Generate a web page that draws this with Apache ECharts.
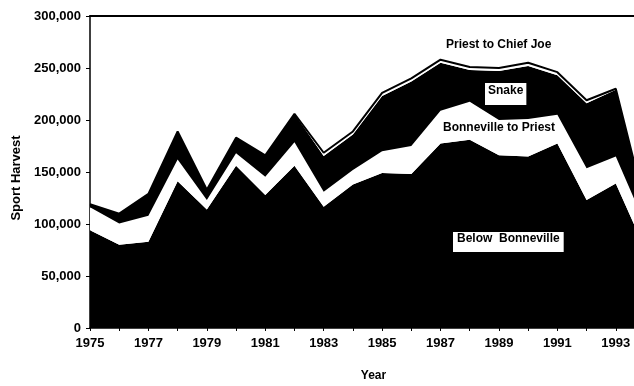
<!DOCTYPE html>
<html>
<head>
<meta charset="utf-8">
<script src="https://cdn.jsdelivr.net/npm/echarts@6/dist/echarts.min.js"></script>
<style>
  html, body { margin: 0; padding: 0; background: #fff; }
  #chart { width: 634px; height: 386px; }
</style>
</head>
<body>
<div id="chart"></div>
<script>
// Sport harvest by river reach, 1975-1994 (stacked)
const years = ['1975', '1976', '1977', '1978', '1979', '1980', '1981', '1982', '1983', '1984',
               '1985', '1986', '1987', '1988', '1989', '1990', '1991', '1992', '1993', '1994'];
const belowBonneville = [94000, 80000, 83000, 141000, 114000, 156000, 128000, 156000, 116500, 138000,
                         149000, 148000, 177500, 181000, 166000, 165000, 177500, 123000, 139000, 76000];
const bonnevilleToPriest = [22000, 20500, 25000, 21000, 9000, 12000, 17500, 22500, 14500, 14000,
                            21000, 27000, 31500, 36500, 34000, 36000, 27500, 30500, 26000, 24000];
const snake = [3000, 9500, 21000, 27000, 10000, 15000, 20500, 27500, 34500, 34000,
               53000, 62000, 46000, 30500, 47000, 51000, 38000, 62500, 64000, 18000];
const priestToChiefJoe = [0, 0, 0, 0, 0, 0, 0, 0, 3000, 3000,
                          3000, 3000, 3000, 3000, 3000, 3000, 3000, 3000, 1000, 0];
const yTicks = [0, 50000, 100000, 150000, 200000, 250000, 300000];

const FONT = '"Liberation Sans", Arial, sans-serif';

function layer(name, values, fill, line) {
  return {
    name: name,
    type: 'line',
    stack: 'harvest',
    data: values,
    symbol: 'none',
    smooth: false,
    lineStyle: line ? { color: line, width: 2 } : { width: 0 },
    areaStyle: { color: fill, opacity: 1 },
    emphasis: { disabled: true },
    silent: true
  };
}

const chart = echarts.init(document.getElementById('chart'), null, { renderer: 'canvas' });
chart.setOption({
  animation: false,
  backgroundColor: '#fff',
  grid: { left: 90, right: -11, top: 16, bottom: 58, containLabel: false, outerBoundsMode: 'none' },
  xAxis: [{
    type: 'category',
    data: years,
    boundaryGap: false,
    name: 'Year',
    nameLocation: 'middle',
    nameGap: 42,
    nameTextStyle: { fontFamily: FONT, fontWeight: 'bold', fontSize: 12, color: '#000',
                     padding: [0, 0, 0, 12] },
    axisLine: { show: true, lineStyle: { color: '#000', width: 1.5 } },
    axisTick: { show: true, interval: 0, length: 3, lineStyle: { color: '#000' } },
    axisLabel: {
      interval: 1,
      margin: 9,
      fontFamily: FONT, fontWeight: 'bold', fontSize: 13, color: '#000'
    },
    splitLine: { show: false }
  }, {
    type: 'category',
    data: years,
    boundaryGap: false,
    position: 'top',
    axisLine: { show: true, lineStyle: { color: '#000', width: 2 } },
    axisTick: { show: false },
    axisLabel: { show: false },
    splitLine: { show: false }
  }],
  yAxis: {
    type: 'value',
    min: yTicks[0], max: yTicks[yTicks.length - 1], interval: 50000,
    name: 'Sport Harvest',
    nameLocation: 'middle',
    nameGap: 60,
    nameTextStyle: { fontFamily: FONT, fontWeight: 'bold', fontSize: 13, color: '#000',
                     padding: [0, 12, 0, 0] },
    axisLine: { show: true, lineStyle: { color: '#000', width: 1.5 } },
    axisTick: { show: true, length: 4, lineStyle: { color: '#000' } },
    axisLabel: {
      margin: 9,
      fontFamily: FONT, fontWeight: 'bold', fontSize: 13, color: '#000',
      formatter: v => v.toLocaleString('en-US')
    },
    splitLine: { show: false }
  },
  series: [
    layer('Below Bonneville', belowBonneville, '#000'),
    layer('Bonneville to Priest', bonnevilleToPriest, '#fff'),
    layer('Snake', snake, '#000'),
    layer('Priest to Chief Joe', priestToChiefJoe, '#fff', '#000')
  ],
  graphic: [
    { type: 'text', left: 446, top: 39, z: 100,
      style: { text: 'Priest to Chief Joe', font: 'bold 12px ' + FONT, fill: '#000' } },
    { type: 'text', left: 485, top: 83, z: 100,
      style: { text: 'Snake', font: 'bold 12px ' + FONT, fill: '#000',
               backgroundColor: '#fff', padding: [2, 3, 8, 3] } },
    { type: 'text', left: 442, top: 121, z: 100,
      style: { text: 'Bonneville to Priest', font: 'bold 12px ' + FONT, fill: '#000',
               backgroundColor: '#fff', padding: [1, 1, 1, 1] } },
    { type: 'text', left: 453, top: 232, z: 100,
      style: { text: 'Below  Bonneville', font: 'bold 12px ' + FONT, fill: '#000',
               backgroundColor: '#fff', padding: [1, 4, 7, 4] } }
  ]
});
</script>
</body>
</html>
